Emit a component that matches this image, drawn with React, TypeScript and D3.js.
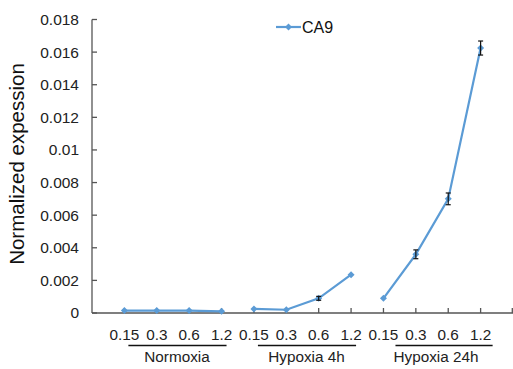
import React from 'react';
import * as d3 from 'd3';

const groups = ['Normoxia', 'Hypoxia 4h', 'Hypoxia 24h'];
const doses = ['0.15', '0.3', '0.6', '1.2'];
const normoxia = [0.00015, 0.00015, 0.00015, 0.0001];
const hypoxia4h = [0.00025, 0.0002, 0.0009, 0.00235];
const hypoxia24h = [0.0009, 0.0036, 0.007, 0.01625];
const errNormoxia = [0.00002, 0.00002, 0.00002, 0.00002];
const errHypoxia4h = [0.00003, 0.00003, 0.00012, 0.00005];
const errHypoxia24h = [0.00004, 0.00027, 0.00036, 0.00043];
const yTicks = [0, 0.002, 0.004, 0.006, 0.008, 0.01, 0.012, 0.014, 0.016, 0.018];
const seriesName = 'CA9';

const W = 513, H = 369;
const lineColor = '#5b9bd5';
const font = '"Liberation Sans", Arial, sans-serif';

export default function App() {
  const values = [normoxia, hypoxia4h, hypoxia24h];
  const errs = [errNormoxia, errHypoxia4h, errHypoxia24h];
  const cats: string[] = [];
  groups.forEach(g => doses.forEach(d => cats.push(g + '|' + d)));

  const x = d3.scalePoint().domain(cats).range([92, 513]).padding(1);
  const y = d3.scaleLinear().domain([0, 0.018]).range([313, 19.5]);

  const diamond = (cx: number, cy: number, r = 3.5) =>
    `M${cx},${cy - r}L${cx + r},${cy}L${cx},${cy + r}L${cx - r},${cy}Z`;

  return (
    <svg width={W} height={H} style={{position: 'absolute', left: 0, top: 0, background: '#fff'}} fontFamily={font}>
      {/* y axis */}
      <line x1={92} x2={92} y1={y(0.018)} y2={y(0)} stroke="#555" strokeWidth={1.3} />
      {yTicks.map(t => (
        <g key={t}>
          <line x1={92} x2={97} y1={y(t)} y2={y(t)} stroke="#555" strokeWidth={1.3} />
          <text x={79} y={y(t)} dy="0.35em" textAnchor="end" fontSize={15.5} fill="#222">{String(+t.toFixed(3))}</text>
        </g>
      ))}
      <text transform={`translate(24,${164}) rotate(-90)`} textAnchor="middle" fontSize={20.5} fill="#111">Normalized expession</text>

      {/* x axis */}
      <line x1={92} x2={513} y1={y(0)} y2={y(0)} stroke="#555" strokeWidth={1.3} />
      {cats.concat(['end']).map((c, i) => {
        const xx = i < cats.length ? (x(c) as number) : 513 - 0.7;
        return <line key={c} x1={xx} x2={xx} y1={y(0)} y2={y(0) - 5} stroke="#555" strokeWidth={1.3} />;
      })}
      {cats.map(c => (
        <text key={c} x={x(c) as number} y={340} textAnchor="middle" fontSize={15.3} fill="#222">{c.split('|')[1]}</text>
      ))}
      {groups.map((g, gi) => {
        const x0 = x(g + '|' + doses[0]) as number;
        const x1 = x(g + '|' + doses[doses.length - 1]) as number;
        const ext = gi === 2 ? 12 : 4;
        return (
          <g key={g}>
            <line x1={x0 + ext} x2={x1 + 5 + (gi === 2 ? 7 : 0)} y1={345.5} y2={345.5} stroke="#111" strokeWidth={1.5} />
            <text x={(x0 + x1) / 2 + 4} y={362} textAnchor="middle" fontSize={15.3} fill="#222">{g}</text>
          </g>
        );
      })}

      {/* series */}
      {values.map((vals, gi) => {
        const pts = vals.map((v, i) => [x(groups[gi] + '|' + doses[i]) as number, y(v)] as [number, number]);
        return (
          <g key={gi}>
            <path d={d3.line()(pts) as string} fill="none" stroke={lineColor} strokeWidth={2.2} />
            {vals.map((v, i) => {
              const cx = pts[i][0];
              const e = errs[gi][i];
              const top = y(v + e), bot = y(v - e);
              return (
                <g key={i}>
                  <path d={diamond(cx, pts[i][1])} fill={lineColor} />
                  {bot - top > 2 && (
                    <g stroke="#111" strokeWidth={1.2}>
                      <line x1={cx} x2={cx} y1={top} y2={bot} />
                      <line x1={cx - 2.5} x2={cx + 2.5} y1={top} y2={top} />
                      <line x1={cx - 2.5} x2={cx + 2.5} y1={bot} y2={bot} />
                    </g>
                  )}
                </g>
              );
            })}
          </g>
        );
      })}

      {/* legend */}
      <line x1={276} x2={301} y1={27} y2={27} stroke={lineColor} strokeWidth={2.2} />
      <path d={diamond(288.5, 27)} fill={lineColor} />
      <text x={302} y={32.5} fontSize={16} fill="#111">{seriesName}</text>
    </svg>
  );
}
